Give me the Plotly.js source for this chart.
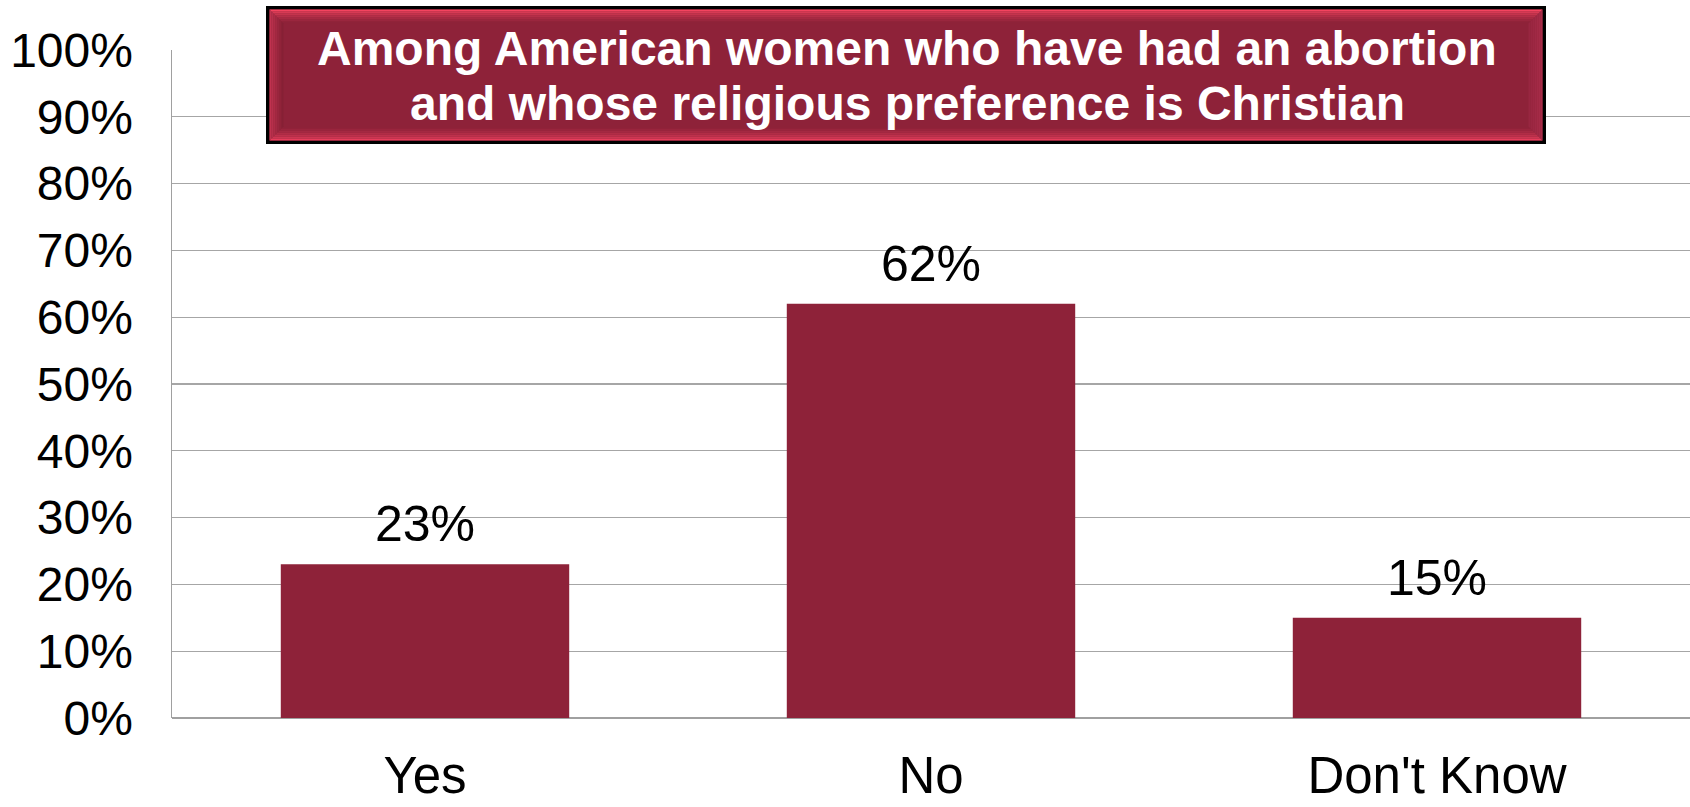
<!DOCTYPE html>
<html>
<head>
<meta charset="utf-8">
<script src="https://cdn.plot.ly/plotly-3.0.1.min.js"></script>
<style>html,body{margin:0;padding:0;background:#fff;}#chart{width:1690px;height:807px;}</style>
</head>
<body>
<div id="chart"></div>
<script>
// ---- data ----
const categories = ["Yes", "No", "Don't Know"];
const percents = [23, 62, 15];
const dataLabels = ["23%", "62%", "15%"];
const titleLines = ["Among American women who have had an abortion", "and whose religious preference is Christian"];
const yTickValues = [0, 10, 20, 30, 40, 50, 60, 70, 80, 90, 100];
const yTickLabels = ["0%", "10%", "20%", "30%", "40%", "50%", "60%", "70%", "80%", "90%", "100%"];

// ---- layout geometry (pixels) ----
const W = 1690, H = 807;
const M = {l: 172, r: 0, t: 50, b: 89};
const PW = W - M.l - M.r, PH = H - M.t - M.b;
const px = x => (x - M.l) / PW;
const py = y => (H - M.b - y) / PH;

const barColor = "#8E2239";
const font = "Liberation Sans, Arial, sans-serif";

// title box with bevel
const box = {x0: 266, x1: 1546, y0: 6, y1: 144, b: 3.5, bev: 14};
const shapes = [];
function rect(x0, y0, x1, y1, color) {
  shapes.push({type: "rect", xref: "paper", yref: "paper", x0: px(x0), x1: px(x1), y0: py(y1), y1: py(y0),
    fillcolor: color, line: {width: 0}, layer: "above"});
}
function poly(pts, color) {
  const d = pts.map((p, i) => (i ? "L" : "M") + px(p[0]) + "," + py(p[1])).join(" ") + " Z";
  shapes.push({type: "path", xref: "paper", yref: "paper", path: d, fillcolor: color, line: {width: 0}, layer: "above"});
}
function mix(c1, c2, t) {
  const a = [1,3,5].map(i => parseInt(c1.substr(i,2),16));
  const b = [1,3,5].map(i => parseInt(c2.substr(i,2),16));
  return "rgb(" + a.map((v,i) => Math.round(v + (b[i]-v)*t)).join(",") + ")";
}
rect(box.x0, box.y0, box.x1, box.y1, "#000000");
const ix0 = box.x0 + box.b, ix1 = box.x1 - box.b, iy0 = box.y0 + box.b, iy1 = box.y1 - box.b;
rect(ix0, iy0, ix1, iy1, barColor);
const N = 7, s = box.bev / N;
for (let i = 0; i < N; i++) {
  const a = i * s, b2 = (i + 1) * s;
  const t = i / (N - 1);
  // top
  poly([[ix0 + a, iy0 + a], [ix1 - a, iy0 + a], [ix1 - b2, iy0 + b2], [ix0 + b2, iy0 + b2]], mix("#F4445F", barColor, Math.pow(t, 0.7)));
  // bottom
  poly([[ix0 + a, iy1 - a], [ix1 - a, iy1 - a], [ix1 - b2, iy1 - b2], [ix0 + b2, iy1 - b2]], mix("#E83E5C", barColor, Math.pow(t, 0.7)));
  // left
  poly([[ix0 + a, iy0 + a], [ix0 + b2, iy0 + b2], [ix0 + b2, iy1 - b2], [ix0 + a, iy1 - a]], mix("#C0324F", "#862035", t));
  // right
  poly([[ix1 - a, iy0 + a], [ix1 - b2, iy0 + b2], [ix1 - b2, iy1 - b2], [ix1 - a, iy1 - a]], mix("#A82C48", "#982641", t));
}

const annotations = [];
const lineCenters = [48, 103];
titleLines.forEach((t, i) => annotations.push({
  xref: "paper", yref: "paper", x: px(907), y: py(lineCenters[i]), xanchor: "center", yanchor: "middle",
  text: "<b>" + t + "</b>", showarrow: false, font: {family: font, size: 48, color: "#ffffff"}
}));
categories.forEach((c, i) => annotations.push({
  x: c, y: percents[i], xref: "x", yref: "y", text: dataLabels[i], showarrow: false,
  yanchor: "bottom", yshift: 10, font: {family: font, size: 50, color: "#000000"}
}));

const trace = {
  type: "bar", x: categories, y: percents, width: 0.57,
  marker: {color: barColor, line: {width: 0}}, hoverinfo: "none"
};

const layout = {
  width: W, height: H, margin: M, paper_bgcolor: "#ffffff", plot_bgcolor: "#ffffff",
  showlegend: false, font: {family: font, color: "#000000"},
  xaxis: {type: "category", tickfont: {family: font, size: 51, color: "#000"}, showgrid: false,
    showline: false, ticks: "", ticklabelstandoff: 23},
  yaxis: {range: [0, 100], tickvals: yTickValues, ticktext: yTickLabels, tickfont: {family: font, size: 48, color: "#000"},
    showgrid: true, gridcolor: "#A6A6A6", gridwidth: 1.2, showline: true, linecolor: "#A0A0A0", linewidth: 1.5,
    zeroline: true, zerolinecolor: "#A0A0A0", zerolinewidth: 1.5, ticks: "", ticklabelstandoff: 28, fixedrange: true},
  shapes: shapes, annotations: annotations
};

Plotly.newPlot("chart", [trace], layout, {displayModeBar: false, staticPlot: true});
</script>
</body>
</html>
